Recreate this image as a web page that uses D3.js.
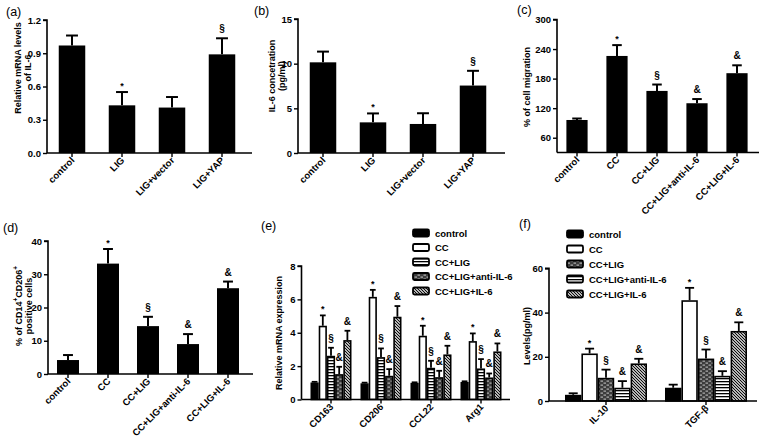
<!DOCTYPE html>
<html><head><meta charset="utf-8">
<script src="https://cdn.jsdelivr.net/npm/d3@7"></script>
<style>
body{margin:0;background:#fff}
svg{display:block;background:#fff}
text{font-family:"Liberation Sans",Arial,Helvetica,sans-serif}
</style>
</head><body>
<svg id="chart" width="761" height="444"></svg>
<script>
// ---------------- data ----------------
const catsAB = ["control", "LIG", "LIG+vector", "LIG+YAP"];
const aMean = [0.97, 0.43, 0.41, 0.89];
const aErr = [0.09, 0.12, 0.095, 0.145];
const aMarks = ["", "*", "", "§"];
const aTicks = [0, 0.3, 0.6, 0.9, 1.2];

const bMean = [10.15, 3.43, 3.25, 7.55];
const bErr = [1.2, 1.0, 1.2, 1.65];
const bMarks = ["", "*", "", "§"];
const bTicks = [0, 5, 10, 15];

const catsCD = ["control", "CC", "CC+LIG", "CC+LIG+anti-IL-6", "CC+LIG+IL-6"];
const cMean = [96, 226, 155, 130, 191];
const cErr = [3, 22, 13, 8.5, 16];
const cMarks = ["", "*", "§", "&", "&"];
const cTicks = [60, 120, 180, 240, 300];

const dMean = [4.2, 33.2, 14.4, 9.0, 25.8];
const dErr = [1.5, 4.4, 2.8, 3.0, 2.0];
const dMarks = ["", "*", "§", "&", "&"];
const dTicks = [0, 10, 20, 30, 40];

const groupSeries = ["control", "CC", "CC+LIG", "CC+LIG+anti-IL-6", "CC+LIG+IL-6"];
const groupMarks = ["", "*", "§", "&", "&"];

const eGenes = ["CD163", "CD206", "CCL22", "Arg1"];
const eControl = [1.02, 0.97, 1.0, 1.05];
const eCC = [4.42, 6.15, 3.82, 3.5];
const eCCLIG = [2.62, 2.54, 1.9, 1.86];
const eAnti = [1.52, 1.42, 1.34, 1.32];
const eIL6 = [3.56, 4.96, 2.7, 2.88];
const eErrControl = [0.04, 0.04, 0.03, 0.04];
const eErrCC = [0.62, 0.42, 0.6, 0.46];
const eErrCCLIG = [0.48, 0.52, 0.42, 0.56];
const eErrAnti = [0.44, 0.4, 0.38, 0.24];
const eErrIL6 = [0.56, 0.64, 0.52, 0.48];
const eTicks = [0, 2, 4, 6, 8];

const fCyt = ["IL-10", "TGF-β"];
const fControl = [2.8, 6.0];
const fCC = [21.5, 45.6];
const fCCLIG = [10.5, 19.2];
const fAnti = [6.0, 11.4];
const fIL6 = [17.0, 31.7];
const fErrControl = [0.7, 1.4];
const fErrCC = [2.2, 5.6];
const fErrCCLIG = [3.7, 4.1];
const fErrAnti = [3.0, 2.1];
const fErrIL6 = [2.1, 3.9];
const fTicks = [0, 20, 40, 60];

// ---------------- drawing ----------------
const svg = d3.select("#chart");
const defs = svg.append("defs");
(function () {
  let p = defs.append("pattern").attr("id", "hstripe").attr("patternUnits", "userSpaceOnUse")
    .attr("width", 4).attr("height", 3);
  p.append("rect").attr("width", 4).attr("height", 3).attr("fill", "#fff");
  p.append("rect").attr("width", 4).attr("height", 1.3).attr("fill", "#000");

  p = defs.append("pattern").attr("id", "brick").attr("patternUnits", "userSpaceOnUse")
    .attr("width", 6).attr("height", 4);
  p.append("rect").attr("width", 6).attr("height", 4).attr("fill", "#3c3c3c");
  p.append("rect").attr("x", 0.5).attr("y", 0.6).attr("width", 2.5).attr("height", 1).attr("fill", "#c8c8c8");
  p.append("rect").attr("x", 3.5).attr("y", 2.6).attr("width", 2.5).attr("height", 1).attr("fill", "#c8c8c8");

  p = defs.append("pattern").attr("id", "diag").attr("patternUnits", "userSpaceOnUse")
    .attr("width", 3).attr("height", 3);
  p.append("rect").attr("width", 3).attr("height", 3).attr("fill", "#fff");
  p.append("path").attr("d", "M-1,-1L4,4M-1,2L1,4M2,-1L4,1")
    .attr("stroke", "#000").attr("stroke-width", 1.1);
})();
const fills = {solid: "#000", white: "#fff", hstripe: "url(#hstripe)", brick: "url(#brick)", diag: "url(#diag)"};

function yAxis(g, y, ticks, x0, fmt) {
  const ax = d3.axisLeft(y).tickValues(ticks).tickSize(4).tickPadding(2).tickFormat(fmt);
  const ga = g.append("g").attr("transform", `translate(${x0},0)`).call(ax);
  ga.select(".domain").attr("stroke-width", 1.6).attr("d", `M-4,${y.range()[1]}H0V${y.range()[0]}`);
  ga.selectAll(".tick line").attr("stroke-width", 1.4);
  ga.selectAll(".tick text").attr("font-size", 9.5).attr("font-weight", "bold").attr("fill", "#000");
  ga.attr("font-family", null);
}

function xAxis(g, centers, labels, x0, xEnd, yB) {
  g.append("line").attr("x1", x0).attr("x2", xEnd).attr("y1", yB).attr("y2", yB)
    .attr("stroke", "#000").attr("stroke-width", 1.6);
  labels.forEach((lab, i) => {
    const cx = centers[i];
    g.append("line").attr("x1", cx).attr("x2", cx).attr("y1", yB).attr("y2", yB + 4)
      .attr("stroke", "#000").attr("stroke-width", 1.4);
    g.append("text").attr("transform", `translate(${cx + 3},${yB + 8}) rotate(-45)`)
      .attr("text-anchor", "end").attr("font-size", 9.5).attr("font-weight", "bold").text(lab);
  });
}

function yTitle(g, lines, cy) {
  lines.forEach(l => {
    const t = g.append("text").attr("transform", `translate(${l.x},${cy}) rotate(-90)`)
      .attr("text-anchor", "middle").attr("font-size", 9).attr("font-weight", "bold");
    if (l.parts) {
      l.parts.forEach(pt => {
        const ts = t.append("tspan").text(pt.t);
        if (pt.sup) ts.attr("font-size", 6.5).attr("dy", -4);
        else if (pt.after) ts.attr("dy", 4);
      });
    } else t.text(l.text);
  });
}

function mark(g, x, yv, m) {
  if (!m) return;
  if (m === "*") {
    g.append("text").attr("x", x).attr("y", yv - 3).attr("text-anchor", "middle")
      .attr("font-size", 9).attr("font-weight", "bold").text(m);
  } else {
    g.append("text").attr("x", x).attr("y", yv - 6).attr("text-anchor", "middle")
      .attr("font-size", 10).attr("font-weight", "bold").text(m);
  }
}

function panelLabel(txt, x, y) {
  svg.append("text").attr("x", x).attr("y", y).attr("font-size", 12.5).text(txt);
}

function simplePanel(cfg) {
  const g = svg.append("g");
  const x = d3.scaleBand().domain(cfg.cats).range(cfg.xr).paddingInner(cfg.pi).paddingOuter(cfg.pi / 2);
  const y = d3.scaleLinear().domain(cfg.domain).range([cfg.yB, cfg.yT]);
  const bw = x.bandwidth();
  cfg.cats.forEach((c, i) => {
    const x0 = x(c), cx = x0 + bw / 2;
    const top = y(cfg.mean[i]), et = y(cfg.mean[i] + cfg.err[i]);
    g.append("line").attr("x1", cx).attr("x2", cx).attr("y1", top).attr("y2", et)
      .attr("stroke", "#000").attr("stroke-width", 2);
    g.append("line").attr("x1", cx - bw * cfg.cap / 2).attr("x2", cx + bw * cfg.cap / 2)
      .attr("y1", et).attr("y2", et).attr("stroke", "#000").attr("stroke-width", 2);
    g.append("rect").attr("x", x0).attr("y", top).attr("width", bw).attr("height", cfg.yB - top).attr("fill", "#000");
    mark(g, cx, et, cfg.marks[i]);
  });
  yAxis(g, y, cfg.ticks, cfg.xr[0], cfg.fmt);
  xAxis(g, cfg.cats.map(c => x(c) + bw / 2), cfg.cats, cfg.xr[0], cfg.xEnd, cfg.yB);
  yTitle(g, cfg.title, cfg.titleY);
}

function groupedPanel(cfg) {
  const g = svg.append("g");
  const x0 = d3.scaleBand().domain(cfg.groups).range(cfg.xr).paddingInner(cfg.pi).paddingOuter(cfg.pi / 2);
  const x1 = d3.scaleBand().domain(groupSeries).range([0, x0.bandwidth()]);
  const y = d3.scaleLinear().domain(cfg.domain).range([cfg.yB, cfg.yT]);
  const bw = x1.bandwidth();
  groupSeries.forEach((s, si) => {
    cfg.groups.forEach((gname, gi) => {
      const bx = x0(gname) + x1(s), cx = bx + bw / 2;
      const v = cfg.values[si][gi], e = cfg.errs[si][gi];
      const top = y(v), et = y(v + e);
      g.append("line").attr("x1", cx).attr("x2", cx).attr("y1", top).attr("y2", et)
        .attr("stroke", "#000").attr("stroke-width", 1.8);
      g.append("line").attr("x1", cx - bw * cfg.cap / 2).attr("x2", cx + bw * cfg.cap / 2)
        .attr("y1", et).attr("y2", et).attr("stroke", "#000").attr("stroke-width", 1.8);
      g.append("rect").attr("x", bx + 0.8).attr("y", top + 0.8).attr("width", bw - 1.6)
        .attr("height", Math.max(0, cfg.yB - top - 0.8)).attr("fill", fills[cfg.styles[si]])
        .attr("stroke", "#000").attr("stroke-width", 1.6);
      mark(g, cx, et, groupMarks[si]);
    });
  });
  yAxis(g, y, cfg.ticks, cfg.yAxisX, d3.format("d"));
  xAxis(g, cfg.groups.map(n => x0(n) + x0.bandwidth() / 2), cfg.groups, cfg.yAxisX, cfg.xEnd, cfg.yB);
  yTitle(g, cfg.title, cfg.titleY);
  // legend
  groupSeries.forEach((s, si) => {
    const ly = cfg.legY + si * cfg.legStep;
    g.append("rect").attr("x", cfg.legX).attr("y", ly - 3.5).attr("width", 16).attr("height", 7)
      .attr("rx", 1.5).attr("fill", fills[cfg.styles[si]]).attr("stroke", "#000").attr("stroke-width", 1.8);
    g.append("text").attr("x", cfg.legX + 22).attr("y", ly + 3.5).attr("font-size", 9.5)
      .attr("font-weight", "bold").text(s);
  });
}

// (a)
simplePanel({cats: catsAB, mean: aMean, err: aErr, marks: aMarks, ticks: aTicks, domain: [0, 1.2],
  xr: [47, 247], pi: 0.47, xEnd: 252, yT: 20, yB: 153, cap: 0.45, fmt: d3.format(".1f"),
  title: [{x: 21, text: "Relative mRNA levels"}, {x: 31, text: "of IL-6"}], titleY: 68});
// (b)
simplePanel({cats: catsAB, mean: bMean, err: bErr, marks: bMarks, ticks: bTicks, domain: [0, 15],
  xr: [298, 498], pi: 0.47, xEnd: 505, yT: 19, yB: 153, cap: 0.45, fmt: d3.format("d"),
  title: [{x: 275, text: "IL-6 concetration"}, {x: 285, text: "(pg/ml)"}], titleY: 76});
// (c)
simplePanel({cats: catsCD, mean: cMean, err: cErr, marks: cMarks, ticks: cTicks, domain: [30, 300],
  xr: [557, 757], pi: 0.47, xEnd: 759, yT: 19.5, yB: 152.5, cap: 0.45, fmt: d3.format("d"),
  title: [{x: 530, text: "% of cell migration"}], titleY: 87});
// (d)
simplePanel({cats: catsCD, mean: dMean, err: dErr, marks: dMarks, ticks: dTicks, domain: [0, 40],
  xr: [48, 248], pi: 0.45, xEnd: 253, yT: 241, yB: 374, cap: 0.45, fmt: d3.format("d"),
  title: [{x: 22, parts: [{t: "% of CD14"}, {t: "+", sup: true}, {t: "CD206", after: true}, {t: "+", sup: true}]},
          {x: 32, text: "positive cells"}], titleY: 306});
// (e)
groupedPanel({groups: eGenes, values: [eControl, eCC, eCCLIG, eAnti, eIL6],
  errs: [eErrControl, eErrCC, eErrCCLIG, eErrAnti, eErrIL6], styles: ["solid", "white", "hstripe", "brick", "diag"],
  ticks: eTicks, domain: [0, 8], xr: [306, 506], pi: 0.18, yAxisX: 301.5, xEnd: 510, yT: 266, yB: 399.5,
  cap: 0.7, title: [{x: 282, text: "Relative mRNA expression"}], titleY: 333,
  legX: 413, legY: 233, legStep: 14.5});
// (f)
groupedPanel({groups: fCyt, values: [fControl, fCC, fCCLIG, fAnti, fIL6],
  errs: [fErrControl, fErrCC, fErrCCLIG, fErrAnti, fErrIL6], styles: ["solid", "white", "brick", "hstripe", "diag"],
  ticks: fTicks, domain: [0, 60], xr: [556, 756], pi: 0.18, yAxisX: 549, xEnd: 757, yT: 268.4, yB: 401,
  cap: 0.55, title: [{x: 530, text: "Levels(pg/ml)"}], titleY: 336,
  legX: 567, legY: 234, legStep: 15});

panelLabel("(a)", 6, 16);
panelLabel("(b)", 254, 15);
panelLabel("(c)", 517, 14);
panelLabel("(d)", 3, 232);
panelLabel("(e)", 261, 230);
panelLabel("(f)", 519, 228);
</script>
</body></html>
